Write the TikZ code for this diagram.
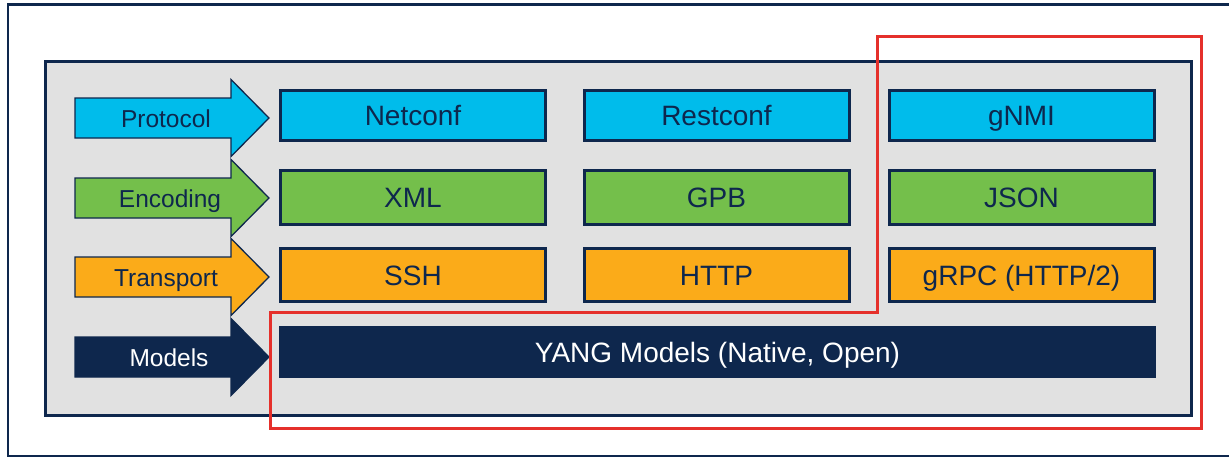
\documentclass[tikz,border=0pt]{standalone}
\usepackage{fontspec}
\setmainfont{Liberation Sans}
\definecolor{navy}{HTML}{0E274D}
\definecolor{ccyan}{HTML}{00BCEB}
\definecolor{cgreen}{HTML}{74BF4B}
\definecolor{corange}{HTML}{FBAB19}
\definecolor{cgray}{HTML}{E1E1E1}
\definecolor{cred}{HTML}{E5302B}
\tikzset{
  layerbox/.style={draw=navy, line width=3pt, minimum width=265pt, minimum height=50pt,
    inner sep=0pt, text height=20pt, text depth=0pt, text=navy,
    font=\fontsize{28}{30}\selectfont},
  arrowlabel/.style={inner sep=0pt, text height=18pt, text depth=0pt, text=navy,
    font=\fontsize{24.5}{27}\selectfont},
  arrowshape/.style={draw=navy, line width=1.3pt, line join=miter}
}
\newcommand{\layerarrow}[2]{%
  \path[arrowshape, fill=#2] (75,#1-20) -- (231,#1-20) -- (231,#1-38.5) -- (269,#1)
    -- (231,#1+38.5) -- (231,#1+20) -- (75,#1+20) -- cycle;}
\begin{document}
\begin{tikzpicture}[x=1pt,y=-1pt]
\clip (0,0) rectangle (1229,458);
\fill[white] (0,0) rectangle (1229,458);
% outer frame
\draw[navy, line width=2.5pt] (8,4.7) rectangle (1260,456);
% panel
\draw[navy, line width=3pt, fill=cgray] (45,61.3) rectangle (1191.3,415);
% arrows
\layerarrow{118}{ccyan}
\layerarrow{198}{cgreen}
\layerarrow{277}{corange}
\layerarrow{357}{navy}
\node[arrowlabel] (lproto) at (166,118) {Protocol};
\node[arrowlabel] (lenc) at (170,198) {Encoding};
\node[arrowlabel] (ltrans) at (166,277) {Transport};
\node[arrowlabel, text=white] (lmod) at (169,357) {Models};
% boxes
\node[layerbox, fill=ccyan] (netconf) at (413,115) {Netconf};
\node[layerbox, fill=ccyan] (restconf) at (716.5,115) {Restconf};
\node[layerbox, fill=ccyan] (gnmi) at (1021.5,115) {gNMI};
\node[layerbox, fill=cgreen, minimum height=54pt] (xml) at (413,197.5) {XML};
\node[layerbox, fill=cgreen, minimum height=54pt] (gpb) at (716.5,197.5) {GPB};
\node[layerbox, fill=cgreen, minimum height=54pt] (json) at (1021.5,197.5) {JSON};
\node[layerbox, fill=corange, minimum height=53pt] (ssh) at (413,275) {SSH};
\node[layerbox, fill=corange, minimum height=53pt] (http) at (716.5,275) {HTTP};
\node[layerbox, fill=corange, minimum height=53pt] (grpc) at (1021.5,275) {gRPC (HTTP/2)};
\node[fill=navy, minimum width=877pt, minimum height=52pt, inner sep=0pt,
  text height=20pt, text depth=0pt, text=white, font=\fontsize{28}{30}\selectfont]
  (yang) at (717.5,352) {YANG Models (Native, Open)};
% red highlight
\draw[cred, line width=3pt, line join=miter] (877,36) -- (1201.5,36) -- (1201.5,428)
  -- (270.5,428) -- (270.5,312.5) -- (877,312.5) -- cycle;
\end{tikzpicture}
\end{document}
